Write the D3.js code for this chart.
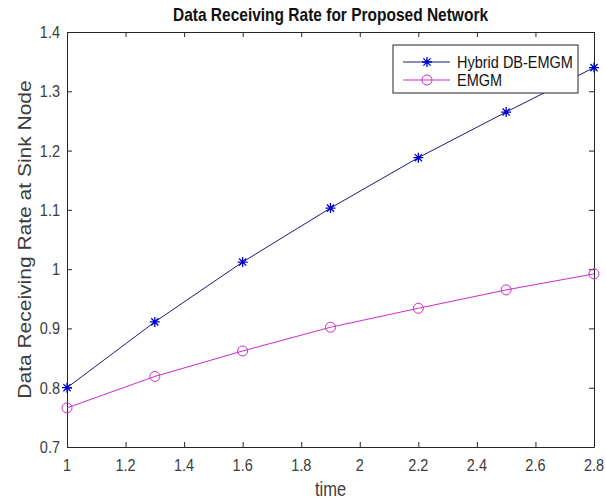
<!DOCTYPE html>
<html><head><meta charset="utf-8">
<script src="https://cdn.jsdelivr.net/npm/d3@7"></script>
<style>body{margin:0;background:#fff;}svg{display:block;font-family:"Liberation Sans",Arial,sans-serif;}</style>
</head><body>
<script>
const times = [1.0, 1.3, 1.6, 1.9, 2.2, 2.5, 2.8];
const hybridValues = [0.800, 0.911, 1.012, 1.103, 1.188, 1.265, 1.340];
const emgmValues = [0.766, 0.819, 0.862, 0.902, 0.934, 0.965, 0.992];
const xTicks = [1, 1.2, 1.4, 1.6, 1.8, 2, 2.2, 2.4, 2.6, 2.8];
const yTicks = [0.7, 0.8, 0.9, 1, 1.1, 1.2, 1.3, 1.4];
const seriesNames = ["Hybrid DB-EMGM", "EMGM"];

const W = 606, H = 503;
const L = 67, R = 594, T = 32, B = 447;
const SY = 1.2; // vertical stretch of glyphs seen in the reference
const svg = d3.select("body").append("svg").attr("width", W).attr("height", H);
svg.append("rect").attr("width", W).attr("height", H).attr("fill", "#fff");

const x = d3.scaleLinear().domain([1, 2.8]).range([L, R]);
const y = d3.scaleLinear().domain([0.7, 1.4]).range([B, T]);
const axisCol = "#262626", textCol = "#3c3c3c";

// stretched text helper: draws text whose baseline is at (tx,ty)
function stext(g, tx, ty, str, size, anchor, weight, fill) {
  return g.append("text")
    .attr("transform", `translate(${tx},${ty}) scale(1,${SY})`)
    .attr("text-anchor", anchor).style("font-size", size + "px")
    .style("font-weight", weight || "normal").attr("fill", fill || textCol).text(str);
}

// axes with inward ticks (labels drawn separately so they can be stretched)
const gx = svg.append("g").attr("transform", `translate(0,${B})`)
  .call(d3.axisBottom(x).tickValues(xTicks).tickSizeInner(-5).tickSizeOuter(0).tickFormat(""));
const gxt = svg.append("g").attr("transform", `translate(0,${T})`)
  .call(d3.axisTop(x).tickValues(xTicks).tickSizeInner(-5).tickSizeOuter(0).tickFormat(""));
const gy = svg.append("g").attr("transform", `translate(${L},0)`)
  .call(d3.axisLeft(y).tickValues(yTicks).tickSizeInner(-5).tickSizeOuter(0).tickFormat(""));
const gyr = svg.append("g").attr("transform", `translate(${R},0)`)
  .call(d3.axisRight(y).tickValues(yTicks).tickSizeInner(-5).tickSizeOuter(0).tickFormat(""));
[gx, gxt, gy, gyr].forEach(g => {
  g.select(".domain").attr("stroke", axisCol).attr("stroke-width", 1);
  g.selectAll(".tick line").attr("stroke", axisCol);
});

const fmt = d3.format("");
const gl = svg.append("g");
xTicks.forEach(t => stext(gl, x(t), 471, fmt(t), 14.5, "middle"));
yTicks.forEach(t => stext(gl, L - 7, y(t) + 6, fmt(t), 14.5, "end"));

// title and labels
stext(svg, (L + R) / 2, 21, "Data Receiving Rate for Proposed Network", 15.5, "middle", "bold", "#111");
stext(svg, (L + R) / 2, 496, "time", 16.5, "middle");
svg.append("text").attr("transform", `translate(31,${(T + B) / 2}) scale(${1},${SY}) rotate(-90)`)
  .attr("text-anchor", "middle").style("font-size", "17.5px").attr("fill", textCol)
  .text("Data Receiving Rate at Sink Node");

const hybLine = "#1a1a78", hybMark = "#0000cc", emgmCol = "#cc2ccc";
const line = d3.line().x(d => x(d[0])).y(d => y(d[1]));
const hyb = times.map((t, i) => [t, hybridValues[i]]);
const emg = times.map((t, i) => [t, emgmValues[i]]);

function star(g, cx, cy, col) {
  const s = 5, d = 3.6;
  g.append("path").attr("d",
    `M${cx - s},${cy}L${cx + s},${cy}M${cx},${cy - s}L${cx},${cy + s}M${cx - d},${cy - d}L${cx + d},${cy + d}M${cx - d},${cy + d}L${cx + d},${cy - d}`)
    .attr("stroke", col).attr("stroke-width", 1.3).attr("fill", "none");
}
function circ(g, cx, cy, col) {
  g.append("circle").attr("cx", cx).attr("cy", cy).attr("r", 5).attr("fill", "none").attr("stroke", col).attr("stroke-width", 1);
}

svg.append("path").datum(emg).attr("d", line).attr("fill", "none").attr("stroke", emgmCol).attr("stroke-width", 1);
const gm = svg.append("g");
emg.forEach(d => circ(gm, x(d[0]), y(d[1]), emgmCol));
svg.append("path").datum(hyb).attr("d", line).attr("fill", "none").attr("stroke", hybLine).attr("stroke-width", 1);
const gh = svg.append("g");
hyb.forEach(d => star(gh, x(d[0]), y(d[1]), hybMark));

// legend
const lg = svg.append("g");
lg.append("rect").attr("x", 393).attr("y", 45).attr("width", 185).attr("height", 48)
  .attr("fill", "#fff").attr("stroke", axisCol).attr("stroke-width", 1);
const rows = [{n: seriesNames[0], lc: hybLine, mc: hybMark, m: star, yy: 62},
              {n: seriesNames[1], lc: emgmCol, mc: emgmCol, m: circ, yy: 80}];
rows.forEach(r => {
  lg.append("line").attr("x1", 403).attr("x2", 450).attr("y1", r.yy).attr("y2", r.yy).attr("stroke", r.lc).attr("stroke-width", 1);
  r.m(lg, 427, r.yy, r.mc);
  stext(lg, 457, r.yy + 6, r.n, 14.5, "start", "normal", "#111");
});
</script>
</body></html>
